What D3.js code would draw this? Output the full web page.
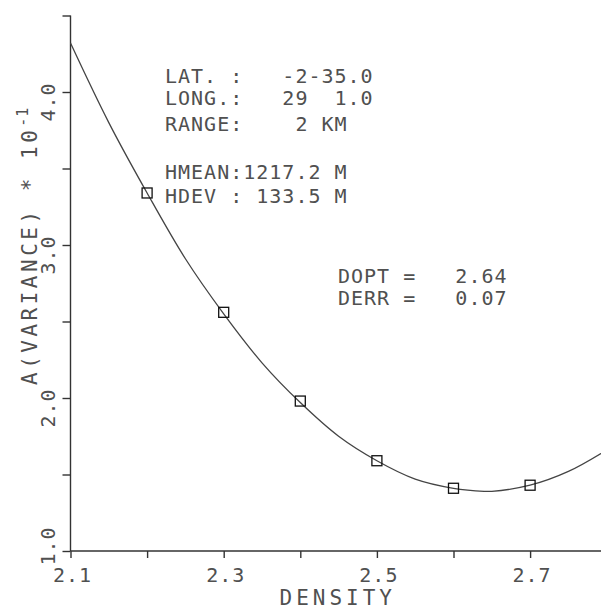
<!DOCTYPE html>
<html>
<head>
<meta charset="utf-8">
<script src="https://cdn.jsdelivr.net/npm/d3@7"></script>
<style>
  body { margin: 0; background: #fff; }
  svg { display: block; }
  text { font-family: "DejaVu Sans Mono", monospace; fill: #505050; white-space: pre; }
</style>
</head>
<body>
<div id="chart"></div>
<script>
// measured points (squares)
const densities = [2.2, 2.3, 2.4, 2.5, 2.6, 2.7];
const variances = [3.34, 2.56, 1.98, 1.59, 1.41, 1.43];

// fitted curve
const curveX = [2.10, 2.15, 2.20, 2.25, 2.30, 2.35, 2.40, 2.45, 2.50, 2.55, 2.60, 2.64, 2.65, 2.70, 2.75, 2.80];
const curveY = [4.32, 3.80, 3.34, 2.91, 2.55, 2.23, 1.97, 1.75, 1.59, 1.47, 1.41, 1.39, 1.39, 1.43, 1.52, 1.66];

const xTicks = [2.1, 2.2, 2.3, 2.4, 2.5, 2.6, 2.7];
const xLabels = [2.1, 2.3, 2.5, 2.7];
const yTicks = [1.0, 1.5, 2.0, 2.5, 3.0, 3.5, 4.0, 4.5];
const yLabels = [1.0, 2.0, 3.0, 4.0];

const infoLines = [
  "LAT. :   -2-35.0",
  "LONG.:   29  1.0",
  "RANGE:    2 KM",
  "",
  "HMEAN:1217.2 M",
  "HDEV : 133.5 M"
];
const fitLines = ["DOPT =   2.64", "DERR =   0.07"];

const chartWidth = 601, chartHeight = 610;
const padLeft = 70.5, axisY = 551, padTop = 15.5;

const svg = d3.select("#chart").append("svg")
  .attr("width", chartWidth)
  .attr("height", chartHeight);

const xScale = d3.scaleLinear().domain([2.1, 2.8]).range([padLeft, padLeft + 7 * 76.6]);
const yScale = d3.scaleLinear().domain([1.0, 4.5]).range([axisY, padTop]);

// y axis
const yAxis = d3.axisLeft(yScale)
  .tickValues(yTicks)
  .tickSize(8)
  .tickFormat("");

svg.append("g")
  .attr("transform", "translate(" + padLeft + ",0)")
  .call(yAxis)
  .call(g => g.select(".domain").attr("d", "M0," + yScale(1.0) + "V" + yScale(4.5)))
  .call(g => g.selectAll("line, path").attr("stroke", "#333").attr("stroke-width", 1.4));

// x axis
const xAxis = d3.axisBottom(xScale)
  .tickValues(xTicks)
  .tickSize(7)
  .tickFormat("");

svg.append("g")
  .attr("transform", "translate(0," + axisY + ")")
  .call(xAxis)
  .call(g => g.select(".domain").attr("d", "M" + padLeft + ",0H" + chartWidth))
  .call(g => g.selectAll("line, path").attr("stroke", "#333").attr("stroke-width", 1.4));

// tick labels
svg.append("g")
  .selectAll("text")
  .data(xLabels)
  .enter()
  .append("text")
  .attr("x", d => xScale(d) + 2)
  .attr("y", 582)
  .attr("text-anchor", "middle")
  .style("font-size", "20px")
  .style("letter-spacing", "1px")
  .text(d => d.toFixed(1));

svg.append("g")
  .selectAll("text")
  .data(yLabels)
  .enter()
  .append("text")
  .attr("transform", d => {
    const yy = d === 1.0 ? yScale(d) - 5 : yScale(d) + 10;
    return "translate(55," + yy + ") rotate(-90)";
  })
  .attr("text-anchor", "middle")
  .style("font-size", "20px")
  .style("letter-spacing", "1px")
  .text(d => d.toFixed(1));

// axis titles
svg.append("text")
  .attr("x", (padLeft + chartWidth) / 2 + 2)
  .attr("y", 605)
  .attr("text-anchor", "middle")
  .style("font-size", "21px")
  .style("letter-spacing", "4px")
  .text("DENSITY");

const yTitle = svg.append("text")
  .attr("transform", "translate(37,385) rotate(-90)")
  .style("font-size", "21px")
  .style("letter-spacing", "3.5px");
yTitle.append("tspan").text("A(VARIANCE) * 10");
yTitle.append("tspan")
  .attr("dy", -9)
  .style("font-size", "15px")
  .style("letter-spacing", "1px")
  .text("-1");

// fitted curve
const line = d3.line()
  .x((d, i) => xScale(curveX[i]))
  .y(d => yScale(d))
  .curve(d3.curveCatmullRom);

svg.append("path")
  .datum(curveY)
  .attr("d", line)
  .attr("fill", "none")
  .attr("stroke", "#444")
  .attr("stroke-width", 1.3);

// data squares
svg.append("g")
  .selectAll("rect")
  .data(variances)
  .enter()
  .append("rect")
  .attr("x", (d, i) => xScale(densities[i]) - 5)
  .attr("y", d => yScale(d) - 5)
  .attr("width", 10)
  .attr("height", 10)
  .attr("fill", "none")
  .attr("stroke", "#111")
  .attr("stroke-width", 1.3);

// info text
svg.append("g")
  .selectAll("text")
  .data(infoLines)
  .enter()
  .append("text")
  .attr("x", 165)
  .attr("y", (d, i) => [83, 105, 131, 155, 179, 203][i])
  .style("font-size", "20px")
  .style("letter-spacing", "1px")
  .text(d => d);

svg.append("g")
  .selectAll("text")
  .data(fitLines)
  .enter()
  .append("text")
  .attr("x", 338)
  .attr("y", (d, i) => 283 + i * 22)
  .style("font-size", "20px")
  .style("letter-spacing", "1px")
  .text(d => d);
</script>
</body>
</html>
